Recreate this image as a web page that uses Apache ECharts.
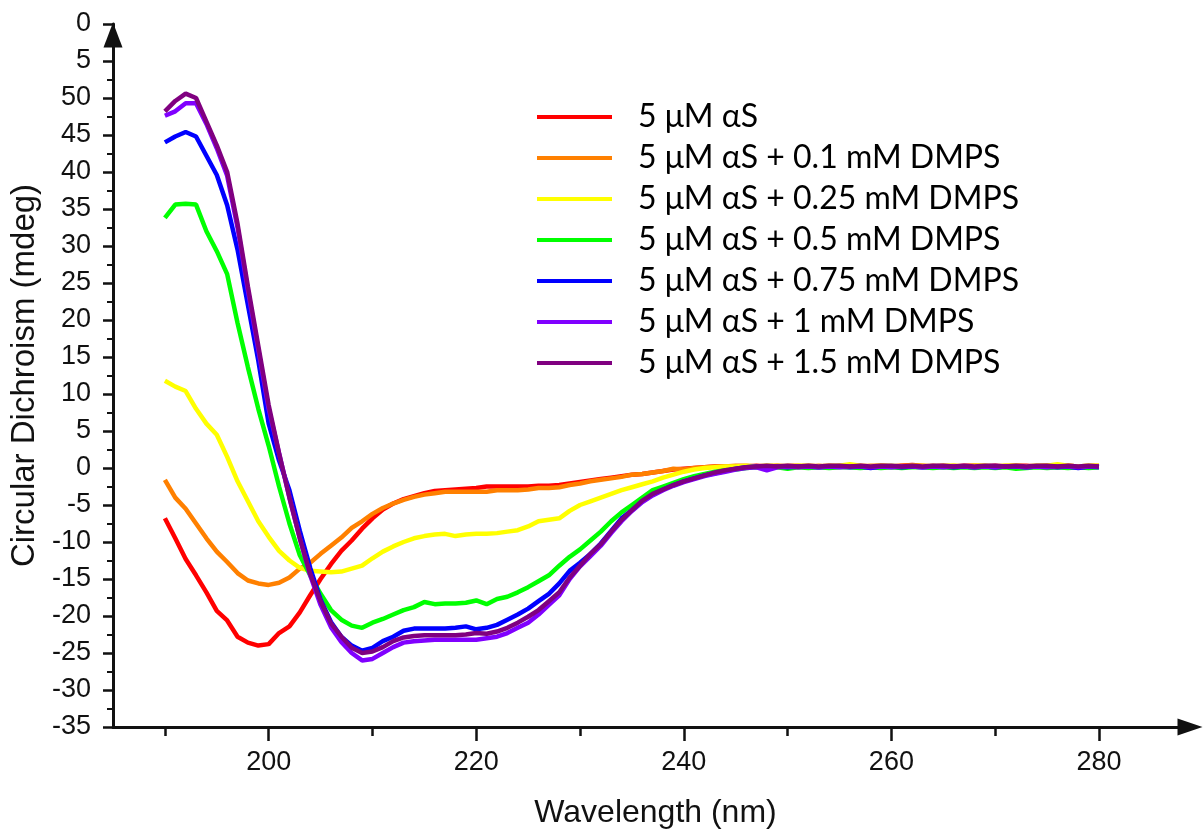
<!DOCTYPE html>
<html><head><meta charset="utf-8">
<script src="https://cdn.jsdelivr.net/npm/echarts@6/dist/echarts.min.js"></script>
<style>html,body{margin:0;padding:0;background:#fff}#c{width:1204px;height:834px}</style>
</head><body><div id="c"></div>
<script>
const wavelengths = [
 190,191,192,193,194,195,196,197,198,199,
 200,201,202,203,204,205,206,207,208,209,
 210,211,212,213,214,215,216,217,218,219,
 220,221,222,223,224,225,226,227,228,229,
 230,231,232,233,234,235,236,237,238,239,
 240,241,242,243,244,245,246,247,248,249,
 250,251,252,253,254,255,256,257,258,259,
 260,261,262,263,264,265,266,267,268,269,
 270,271,272,273,274,275,276,277,278,279,
 280];

const seriesNames = [
 '5 μM αS',
 '5 μM αS + 0.1 mM DMPS',
 '5 μM αS + 0.25 mM DMPS',
 '5 μM αS + 0.5 mM DMPS',
 '5 μM αS + 0.75 mM DMPS',
 '5 μM αS + 1 mM DMPS',
 '5 μM αS + 1.5 mM DMPS'];

const seriesColors = ['#ff0000','#ff8000','#ffff00','#00ff00','#0000ff','#8000ff','#800080'];

const cdAS = [
 -6.8,-9.5,-12.3,-14.5,-16.8,-19.3,-20.6,-22.8,-23.6,-24.0,
 -23.8,-22.3,-21.4,-19.5,-17.2,-15.0,-13.0,-11.2,-9.8,-8.2,
 -6.8,-5.6,-4.8,-4.2,-3.8,-3.4,-3.1,-3.0,-2.9,-2.8,
 -2.7,-2.5,-2.5,-2.5,-2.5,-2.5,-2.4,-2.4,-2.3,-2.1,
 -1.9,-1.7,-1.5,-1.3,-1.1,-0.9,-0.8,-0.6,-0.4,-0.2,
 -0.1,0.0,0.1,0.2,0.2,0.2,0.2,0.3,0.2,0.3,
 0.2,0.2,0.3,0.2,0.3,0.2,0.3,0.3,0.2,0.3,
 0.2,0.3,0.4,0.3,0.2,0.3,0.2,0.3,0.3,0.2,
 0.3,0.2,0.3,0.3,0.2,0.3,0.2,0.3,0.2,0.2,
 0.2];

const cdDMPS01 = [
 -1.6,-4.0,-5.5,-7.5,-9.5,-11.3,-12.7,-14.2,-15.2,-15.6,
 -15.8,-15.5,-14.8,-13.6,-12.8,-11.6,-10.5,-9.4,-8.1,-7.2,
 -6.2,-5.4,-4.8,-4.3,-3.9,-3.6,-3.4,-3.2,-3.2,-3.2,
 -3.2,-3.2,-3.0,-3.0,-3.0,-2.9,-2.7,-2.7,-2.6,-2.3,
 -2.1,-1.8,-1.6,-1.4,-1.2,-0.9,-0.8,-0.6,-0.4,-0.1,
 -0.2,0.0,0.1,0.2,0.2,0.3,0.3,0.2,0.3,0.2,
 0.3,0.3,0.2,0.3,0.2,0.3,0.3,0.2,0.3,0.3,
 0.2,0.3,0.3,0.2,0.3,0.2,0.3,0.2,0.3,0.3,
 0.2,0.3,0.3,0.2,0.3,0.3,0.2,0.3,0.2,0.3,
 0.3];

const cdDMPS025 = [
 11.8,11.0,10.4,8.0,6.0,4.5,1.5,-1.8,-4.5,-7.2,
 -9.3,-11.2,-12.5,-13.5,-13.9,-14.0,-14.1,-14.0,-13.6,-13.2,
 -12.2,-11.3,-10.6,-10.0,-9.5,-9.2,-9.0,-8.9,-9.2,-9.0,
 -8.9,-8.9,-8.8,-8.6,-8.4,-7.9,-7.2,-7.0,-6.8,-5.8,
 -5.0,-4.5,-4.0,-3.5,-3.0,-2.6,-2.2,-1.8,-1.3,-0.9,
 -0.5,-0.2,0.0,0.1,0.2,0.2,0.3,0.2,0.3,0.3,
 0.2,0.3,0.3,0.2,0.3,0.3,0.5,0.3,0.2,0.3,
 0.3,0.2,0.3,0.3,0.2,0.3,0.3,0.2,0.3,0.3,
 0.2,0.3,0.3,0.2,0.3,0.3,0.5,0.3,0.2,0.3,
 0.3];

const cdDMPS05 = [
 33.8,35.6,35.7,35.6,32.0,29.3,26.2,19.6,13.6,8.0,
 3.0,-2.5,-7.5,-11.8,-14.5,-17.0,-19.2,-20.5,-21.3,-21.6,
 -20.9,-20.4,-19.8,-19.2,-18.8,-18.1,-18.4,-18.3,-18.3,-18.2,
 -17.9,-18.4,-17.7,-17.4,-16.8,-16.1,-15.3,-14.5,-13.2,-12.0,
 -11.0,-9.8,-8.6,-7.2,-6.0,-5.0,-4.0,-3.0,-2.5,-2.0,
 -1.5,-1.1,-0.8,-0.5,-0.3,-0.2,0.0,0.1,0.0,0.1,
 -0.1,0.1,0.0,0.1,0.0,0.1,0.1,0.0,0.1,0.0,
 0.1,0.0,0.1,0.1,0.0,0.1,0.0,0.1,0.0,0.1,
 0.0,0.1,-0.1,0.0,0.1,0.0,0.1,0.0,0.1,0.0,
 0.1];

const cdDMPS075 = [
 44.0,44.8,45.4,44.8,42.2,39.6,35.5,29.5,22.0,14.5,
 6.0,1.0,-3.0,-8.5,-13.5,-17.8,-20.8,-22.8,-24.0,-24.7,
 -24.3,-23.4,-22.8,-22.0,-21.7,-21.7,-21.7,-21.7,-21.6,-21.4,
 -21.8,-21.6,-21.2,-20.5,-19.8,-19.0,-18.0,-17.0,-15.6,-13.9,
 -12.8,-11.6,-10.2,-8.5,-6.8,-5.7,-4.5,-3.6,-2.9,-2.3,
 -1.8,-1.4,-1.0,-0.7,-0.4,-0.1,0.1,0.2,0.1,0.2,
 0.1,0.2,0.2,0.1,0.2,0.2,0.1,0.2,0.0,0.2,
 0.2,0.1,0.2,0.1,0.2,0.2,0.1,0.2,0.1,0.2,
 0.1,0.2,0.2,0.1,0.2,0.2,0.1,0.2,0.0,0.2,
 0.1];

const cdDMPS1 = [
 47.6,48.2,49.3,49.3,46.5,43.2,39.5,32.5,24.0,16.0,
 8.0,2.0,-4.0,-9.5,-14.5,-18.5,-21.5,-23.5,-25.0,-26.0,
 -25.8,-25.0,-24.2,-23.6,-23.4,-23.3,-23.2,-23.2,-23.2,-23.2,
 -23.2,-23.0,-22.8,-22.3,-21.6,-20.9,-19.8,-18.5,-17.2,-15.0,
 -13.3,-11.9,-10.5,-8.8,-7.2,-5.8,-4.6,-3.7,-3.0,-2.4,
 -1.9,-1.5,-1.1,-0.8,-0.5,-0.2,0.0,0.1,-0.3,0.1,
 0.2,0.1,0.2,0.1,0.2,0.1,0.2,0.2,0.1,0.2,
 0.1,0.2,0.2,0.1,0.2,0.1,0.2,0.2,0.1,0.2,
 0.1,0.2,0.2,0.1,0.2,0.1,0.2,0.2,0.1,0.2,
 0.2];

const cdDMPS15 = [
 48.2,49.6,50.6,50.0,46.8,43.6,40.0,33.0,24.5,16.5,
 8.5,2.0,-4.0,-9.5,-14.3,-18.0,-21.0,-22.8,-24.3,-25.0,
 -24.8,-24.2,-23.4,-22.9,-22.7,-22.6,-22.6,-22.6,-22.6,-22.5,
 -22.3,-22.4,-22.1,-21.6,-20.9,-20.1,-19.2,-18.0,-16.8,-14.8,
 -13.2,-11.6,-10.3,-8.6,-7.0,-5.7,-4.4,-3.5,-2.9,-2.3,
 -1.8,-1.4,-1.0,-0.6,-0.3,-0.1,0.1,0.2,0.3,0.2,
 0.3,0.2,0.3,0.2,0.3,0.3,0.2,0.3,0.2,0.3,
 0.3,0.2,0.3,0.2,0.3,0.3,0.2,0.3,0.2,0.3,
 0.3,0.2,0.3,0.2,0.3,0.3,0.2,0.3,0.2,0.3,
 0.2];

const xMajorTicks = [200,220,240,260,280];
const xMinorTicks = [190,210,230,250,270];
const yTickValues = [-35,-30,-25,-20,-15,-10,-5,0,5,10,15,20,25,30,35,40,45,50,55,60];
const yTickLabels = ['-35','-30','-25','-20','-15','-10','-5','0','5','10','15','20','25','30','35','40','45','50','5','0'];

const allValues = [cdAS, cdDMPS01, cdDMPS025, cdDMPS05, cdDMPS075, cdDMPS1, cdDMPS15];

const axisColor = '#111';
const chart = echarts.init(document.getElementById('c'), null, {renderer:'canvas'});
chart.setOption({
  animation: false,
  backgroundColor: '#fff',
  grid: {left:113, right:22, top:24, bottom:105, containLabel:false},
  legend: {
    orient:'vertical', left:537, top:100, padding:0, itemWidth:75, itemHeight:4, itemGap:7, icon:'rect',
    textStyle:{fontFamily:'Lato', fontSize:32, color:'#000', padding:[0,0,0,21], lineHeight:34},
    data: seriesNames
  },
  xAxis: [{
    type:'value', min:185, max:288, position:'bottom',
    axisLine:{show:true, onZero:false, lineStyle:{color:axisColor, width:3}, symbol:['none','triangle'], symbolSize:[17,25], symbolOffset:[0,8]},
    axisTick:{show:true, customValues:xMajorTicks, length:14, lineStyle:{width:2.5, color:axisColor}},
    axisLabel:{show:true, customValues:xMajorTicks, fontSize:27, margin:22, color:axisColor, fontFamily:'Liberation Sans'},
    splitLine:{show:false},
    name:'Wavelength (nm)', nameLocation:'middle', nameGap:70,
    nameTextStyle:{fontSize:32, color:axisColor, fontFamily:'Liberation Sans', padding:[0,0,0,16]}
  },{
    type:'value', min:185, max:288, position:'bottom', gridIndex:0,
    axisLine:{show:false, onZero:false},
    axisTick:{show:true, customValues:xMinorTicks, length:9, lineStyle:{width:2.5, color:axisColor}},
    axisLabel:{show:false}, splitLine:{show:false}
  }],
  yAxis: {
    type:'value', min:-35, max:60, interval:5,
    axisLine:{show:true, onZero:false, lineStyle:{color:axisColor, width:3}, symbol:['none','triangle'], symbolSize:[19,25], symbolOffset:[0,-11]},
    axisTick:{show:true, length:10, lineStyle:{width:2.5, color:axisColor}},
    minorTick:{show:true, splitNumber:2, length:6, lineStyle:{width:2, color:axisColor}},
    splitLine:{show:false},
    axisLabel:{fontSize:27, color:axisColor, margin:22, fontFamily:'Liberation Sans',
      formatter: function (v) { const k = yTickValues.indexOf(v); return k >= 0 ? yTickLabels[k] : ''; }},
    name:'Circular Dichroism (mdeg)', nameLocation:'middle', nameGap:63,
    nameTextStyle:{fontSize:33, color:axisColor, fontFamily:'Liberation Sans'}
  },
  series: seriesNames.map(function (n, i) {
    return {
      name:n, type:'line', xAxisIndex:0, yAxisIndex:0,
      data: wavelengths.map(function (w, j) { return [w, allValues[i][j]]; }),
      showSymbol:false, symbol:'none', z: 2 + i,
      lineStyle:{width:4.5, color:seriesColors[i]}, itemStyle:{color:seriesColors[i]}
    };
  })
});
</script>
</body></html>
